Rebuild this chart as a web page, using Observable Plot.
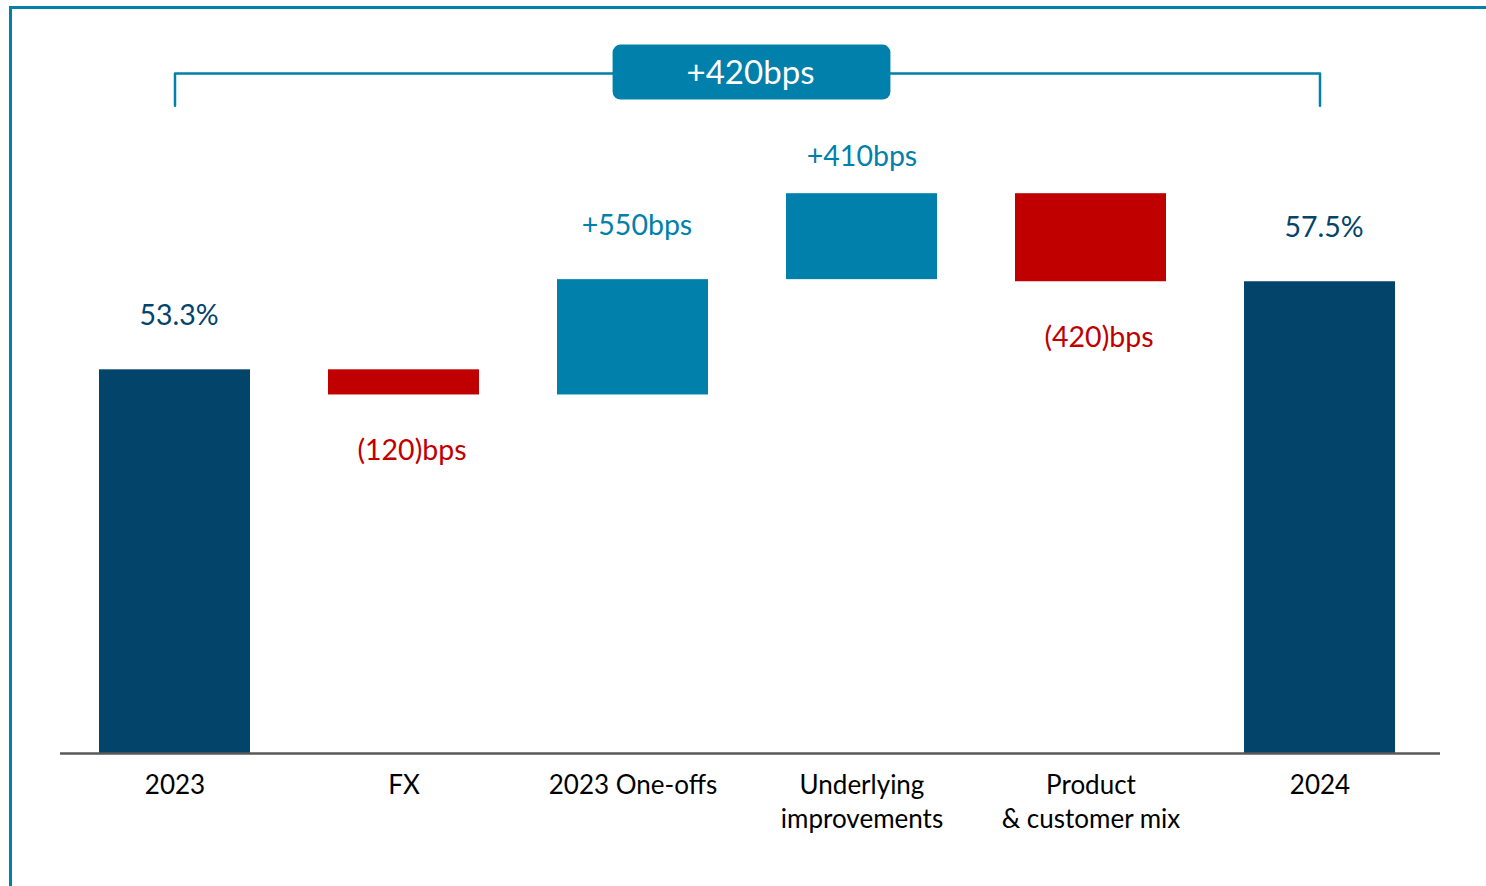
<!DOCTYPE html>
<html>
<head>
<meta charset="utf-8">
<script src="https://cdn.jsdelivr.net/npm/d3@7"></script>
<script src="https://cdn.jsdelivr.net/npm/@observablehq/plot@0.6"></script>
<style>
  html, body { margin: 0; padding: 0; background: #fff; overflow: hidden; }
  #wrap { position: relative; width: 1486px; height: 886px; }
  #chart { position: absolute; left: 0; top: 0; }
  #edge {
    position: absolute; left: 9px; top: 6px; width: 1600px; height: 1000px;
    border-top: 3px solid #0081a9; border-left: 3px solid #0081a9;
    pointer-events: none;
  }
</style>
</head>
<body>
<div id="wrap">
  <div id="chart"></div>
  <div id="edge"></div>
</div>
<script>
// Gross margin bridge, 2023 -> 2024 (percentage points)
const categories = ["2023", "FX", "2023 One-offs", "Underlying\nimprovements", "Product\n& customer mix", "2024"];
const kinds = ["total", "delta", "delta", "delta", "delta", "total"];
const values = [53.3, -1.2, 5.5, 4.1, -4.2, 57.5];

const navy = "#03446a";
const teal = "#0080aa";
const red = "#c00000";

// build the waterfall segments
const yBase = 35;
let running = 0;
const rows = categories.map((cat, i) => {
  const v = values[i];
  let lo, hi;
  if (kinds[i] === "total") {
    lo = yBase; hi = v; running = v;
  } else {
    const start = running;
    running = start + v;
    lo = Math.min(start, running); hi = Math.max(start, running);
  }
  const bps = Math.round(Math.abs(v) * 100);
  const label = kinds[i] === "total" ? `${v.toFixed(1)}%`
    : v >= 0 ? `+${bps}bps` : `(${bps})bps`;
  const color = kinds[i] === "total" ? navy : v >= 0 ? teal : red;
  return {cat, kind: kinds[i], value: v, lo, hi, label, color, up: kinds[i] === "total" || v >= 0};
});

const first = rows[0], last = rows[rows.length - 1];
const change = Math.round((last.value - first.value) * 100);
const bridgeLabel = (change >= 0 ? "+" : "") + change + "bps";
const peak = d3.max(rows, d => d.hi);

// bracket spanning the two totals, drawn above the bars
const bracketTop = 67.43;
const bracketFoot = 65.9;
const bracket = [
  {x: first.cat, y: bracketFoot}, {x: first.cat, y: bracketTop},
  {x: last.cat, y: bracketTop}, {x: last.cat, y: bracketFoot}
];

const plot = Plot.plot({
  width: 1486,
  height: 886,
  marginLeft: 60,
  marginRight: 46,
  marginTop: 0,
  marginBottom: 134,
  style: {fontFamily: "Lato, 'Open Sans', sans-serif", fontSize: "26px", color: "#000", background: "transparent"},
  x: {domain: categories, range: [60, 1435], paddingInner: 0.34, paddingOuter: 0.17, label: null},
  y: {domain: [35, 65], range: [753, 124], axis: null},
  marks: [
    Plot.barY(rows, {x: "cat", y1: "lo", y2: "hi", fill: "color", inset: 0}),
    Plot.ruleY([yBase], {stroke: "#595959", strokeWidth: 2.5}),
    Plot.axisX({tickSize: 0, tickPadding: 17, fontSize: 26, lineHeight: 1.31, fill: "#000"}),
    // labels above rising bars and totals
    Plot.text(rows.filter(d => d.up && d.hi !== peak), {
      x: "cat", y: "hi", text: "label", fill: "color", dy: -54, dx: 4, fontSize: 28.5
    }),
    Plot.text(rows.filter(d => d.up && d.hi === peak), {
      x: "cat", y: "hi", text: "label", fill: "color", dy: -37, dx: 0, fontSize: 28.5
    }),
    // labels below falling bars
    Plot.text(rows.filter(d => !d.up), {
      x: "cat", y: "lo", text: "label", fill: "color", dy: 56, dx: 8, fontSize: 28.5
    }),
    Plot.line(bracket, {x: "x", y: "y", stroke: teal, strokeWidth: 2.5}),
    Plot.text([bridgeLabel], {
      y: () => bracketTop, text: d => d, frameAnchor: "middle",
      fill: "#fff", fontSize: 33, className: "bridge-label"
    })
  ]
});

document.getElementById("chart").appendChild(plot);

// rounded badge behind the overall change, in the label's own coordinates
d3.select(plot).selectAll("g.bridge-label text").each(function() {
  const bb = this.getBBox();
  const cx = bb.x + bb.width / 2, cy = bb.y + bb.height / 2;
  const bw = bb.width + 150, bh = 55;
  d3.select(this.parentNode)
    .insert("rect", () => this)
    .attr("transform", this.getAttribute("transform"))
    .attr("x", cx - bw / 2 + 1)
    .attr("y", cy - bh / 2 + 1)
    .attr("width", bw)
    .attr("height", bh)
    .attr("rx", 8)
    .attr("fill", teal);
});
</script>
</body>
</html>
